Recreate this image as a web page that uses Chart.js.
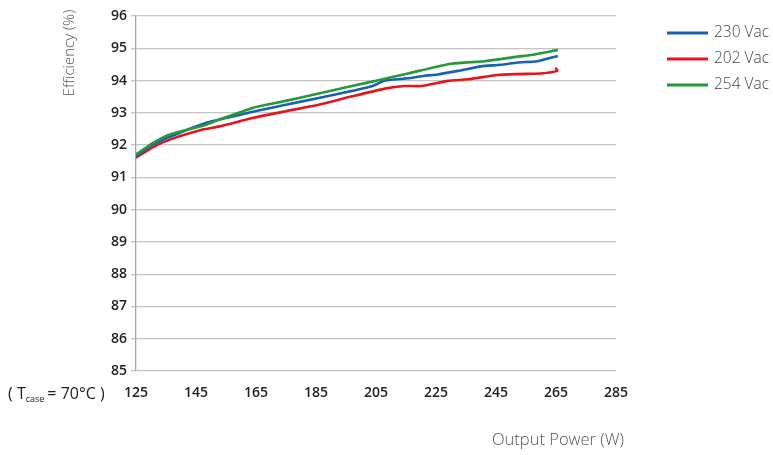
<!DOCTYPE html>
<html>
<head>
<meta charset="utf-8">
<script src="https://cdn.jsdelivr.net/npm/chart.js@4.4.1/dist/chart.umd.min.js"></script>
<style>
  html, body { margin: 0; padding: 0; background: #fff; }
  #wrap { width: 773px; height: 455px; position: relative; }
</style>
</head>
<body>
<div id="wrap"><canvas id="effChart" width="773" height="455"></canvas></div>
<script>
// Output power (W) readings for each curve, and efficiency (%) values
const power230 = [125, 130.7, 139.6, 148.4, 155, 163.9, 174.9, 185.9, 197, 203.6, 208, 215.7, 221.2, 225.7, 232.3, 240, 246.6, 252.2, 258.8, 265.6];
const eff230 = [91.66, 92.02, 92.38, 92.69, 92.84, 93.03, 93.25, 93.46, 93.68, 93.82, 94.0, 94.07, 94.15, 94.19, 94.3, 94.44, 94.49, 94.56, 94.6, 94.76];

const power202 = [125, 130.7, 136.3, 147.3, 152.8, 163.9, 174.9, 185.9, 197, 208, 214.6, 220.1, 229, 235.6, 245.5, 252.2, 259.9, 265.4, 264.8];
const eff202 = [91.61, 91.94, 92.17, 92.48, 92.58, 92.84, 93.05, 93.25, 93.51, 93.75, 93.83, 93.83, 93.99, 94.04, 94.17, 94.2, 94.22, 94.3, 94.4];

const power254 = [125, 130.7, 136.3, 147.3, 152.8, 163.9, 174.9, 185.9, 197, 205.8, 215.7, 230.1, 241.1, 252.2, 256.6, 265.6];
const eff254 = [91.71, 92.07, 92.33, 92.6, 92.79, 93.15, 93.37, 93.6, 93.83, 94.01, 94.22, 94.52, 94.6, 94.74, 94.79, 94.95];

const seriesLabels = ["230 Vac", "202 Vac", "254 Vac"];
const seriesColors = ["#1763b3", "#e3161f", "#27993a"];

const xTicks = [125, 145, 165, 185, 205, 225, 245, 265, 285];
const yTicks = [85, 86, 87, 88, 89, 90, 91, 92, 93, 94, 95, 96];

function toPoints(xs, ys) {
  return xs.map((x, i) => ({ x: x, y: ys[i] }));
}

// Extra texts and legend drawn on the canvas
const extrasPlugin = {
  id: "extras",
  afterDraw(chart) {
    const ctx = chart.ctx;
    ctx.save();
    ctx.fillStyle = "#555";
    ctx.textBaseline = "middle";

    // y axis title
    ctx.save();
    ctx.translate(70, 53);
    ctx.rotate(-Math.PI / 2);
    ctx.textAlign = "center";
    ctx.font = "300 15px 'Open Sans'";
    ctx.fillText("Efficiency (%)", 0, 0);
    ctx.restore();

    // x axis title
    ctx.textAlign = "left";
    ctx.font = "300 16.5px 'Open Sans'";
    ctx.fillText("Output Power (W)", 492, 440);

    // case temperature note
    ctx.fillStyle = "#222";
    ctx.font = "16px 'Open Sans'";
    let x = 8;
    const y = 394;
    ctx.fillText("( T", x, y);
    x += ctx.measureText("( T").width;
    ctx.font = "9px 'Open Sans'";
    ctx.fillText("case", x, y + 5);
    x += ctx.measureText("case").width + 3;
    ctx.font = "16px 'Open Sans'";
    ctx.fillText("= 70°C )", x, y);

    // legend
    ctx.font = "300 15.5px 'Open Sans'";
    ctx.fillStyle = "#444";
    chart.data.datasets.forEach((ds, i) => {
      const ly = 33 + i * 26;
      ctx.strokeStyle = ds.borderColor;
      ctx.lineWidth = 3;
      ctx.beginPath();
      ctx.moveTo(667, ly);
      ctx.lineTo(708, ly);
      ctx.stroke();
      ctx.fillText(ds.label, 714, ly);
    });
    ctx.restore();
  }
};

new Chart(document.getElementById("effChart").getContext("2d"), {
  type: "line",
  data: {
    datasets: [
      { label: seriesLabels[0], data: toPoints(power230, eff230), borderColor: seriesColors[0] },
      { label: seriesLabels[1], data: toPoints(power202, eff202), borderColor: seriesColors[1] },
      { label: seriesLabels[2], data: toPoints(power254, eff254), borderColor: seriesColors[2], order: -1 },
    ].map(ds => Object.assign(ds, { borderWidth: 2.6, pointRadius: 0, tension: 0.2, fill: false })),
  },
  options: {
    responsive: false,
    animation: false,
    layout: { padding: { left: 0, right: 157, top: 16, bottom: 0 } },
    plugins: {
      legend: { display: false },
      tooltip: { enabled: false },
    },
    scales: {
      x: {
        type: "linear",
        min: 125,
        max: 285,
        afterBuildTicks: (scale) => { scale.ticks = xTicks.map(v => ({ value: v })); },
        afterFit: (scale) => { scale.height = 84; },
        grid: { display: false, drawTicks: false },
        border: { display: false },
        ticks: {
          padding: 14,
          color: "#222",
          font: { family: "'Open Sans'", size: 14, weight: "600" },
        },
      },
      y: {
        min: 85,
        max: 96,
        afterBuildTicks: (scale) => { scale.ticks = yTicks.map(v => ({ value: v })); },
        afterFit: (scale) => { scale.width = 136; },
        grid: { color: "#c4c4c4", lineWidth: 1.3, tickLength: 5, drawTicks: true },
        border: { display: true, color: "#a8a8a8", width: 1.3 },
        ticks: {
          padding: 4,
          color: "#222",
          font: { family: "'Open Sans'", size: 14, weight: "600" },
        },
      },
    },
  },
  plugins: [extrasPlugin],
});
</script>
</body>
</html>
